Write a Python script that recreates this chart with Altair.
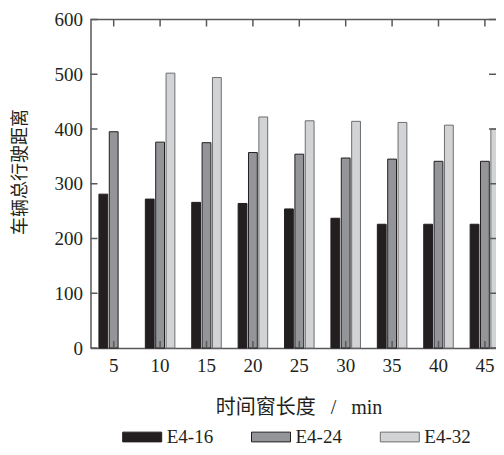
import altair as alt
import pandas as pd

windows = [5, 10, 15, 20, 25, 30, 35, 40, 45]
e4_16 = [281, 272, 266, 264, 254, 237, 226, 226, 226]
e4_24 = [395, 376, 375, 357, 354, 347, 345, 341, 341]
e4_32 = [None, 502, 494, 422, 415, 414, 412, 407, 400]
series = ["E4-16", "E4-24", "E4-32"]
fills = ["#231f20", "#939598", "#d1d3d4"]
strokes = ["#231f20", "#231f20", "#6d6e71"]
y_ticks = [0, 100, 200, 300, 400, 500, 600]

rows = []
for s, vals in zip(series, [e4_16, e4_24, e4_32]):
    for w, v in zip(windows, vals):
        if v is not None:
            rows.append({"window": w, "series": s, "value": v})
df = pd.DataFrame(rows)

frame_x = pd.DataFrame({"window": windows, "lo": y_ticks[0], "hi": y_ticks[-1]})
frame_y = pd.DataFrame({"v": y_ticks})
frame_top = pd.DataFrame({"v": [y_ticks[-1]]})

FONT = "'Liberation Serif', 'Noto Sans CJK SC'"
TXT = "#231f20"
AX = "#58595b"
W = 405.5
H = 328.5
X_SPAN = 417.6

xscale = alt.Scale(range=[0, X_SPAN], paddingInner=0.33, paddingOuter=0.165)
yscale = alt.Scale(domain=[y_ticks[0], y_ticks[-1]])

legend = alt.Legend(
    orient="none", legendX=31.7, legendY=397.5, direction="horizontal",
    title=None, symbolType="M-1,-0.25H1V0.25H-1Z", symbolSize=1521,
    symbolStrokeWidth=1, labelFont=FONT, labelFontSize=19, labelColor=TXT,
    labelOffset=4.5, columnPadding=35.8,
)

x_axis = alt.Axis(
    orient="bottom", title="时间窗长度\u00a0\u00a0 /\u00a0\u00a0 min", labelAngle=0,
    ticks=False, tickSize=0,
    domain=True, domainColor=AX, domainWidth=1.5, labelPadding=8,
    labelFont=FONT, labelFontSize=19, labelColor=TXT,
    titleFont=FONT, titleFontSize=20, titleFontWeight="normal", titleColor=TXT,
    titleX=208, titleY=65, titleBaseline="alphabetic", grid=False)
y_axis = alt.Axis(
    orient="left", values=y_ticks, title="车辆总行驶距离", ticks=False, tickSize=0,
    domain=True, domainColor=AX, domainWidth=1.5, labelPadding=8,
    labelFont=FONT, labelFontSize=19, labelColor=TXT,
    titleFont=FONT, titleFontSize=18, titleFontWeight="normal", titleColor=TXT,
    titleX=-61, titleY=152, grid=False)

bars = alt.Chart(df).mark_bar(strokeWidth=1).encode(
    x=alt.X("window:O", scale=xscale, axis=x_axis),
    y=alt.Y("value:Q", scale=yscale, axis=y_axis),
    xOffset=alt.XOffset("series:N", scale=alt.Scale(domain=series, paddingInner=0.15, paddingOuter=0.075)),
    color=alt.Color("series:N", scale=alt.Scale(domain=series, range=fills), legend=legend),
    stroke=alt.Stroke("series:N", scale=alt.Scale(domain=series, range=strokes), legend=legend),
)

tick_style = dict(size=7, thickness=1.5, color=AX, opacity=1)

bottom_ticks = alt.Chart(frame_x).mark_tick(orient="vertical", yOffset=-3.5, **tick_style).encode(
    x=alt.X("window:O", scale=xscale, axis=x_axis),
    y=alt.Y("lo:Q", scale=yscale, axis=y_axis),
)
top_ticks = alt.Chart(frame_x).mark_tick(orient="vertical", yOffset=3.5, **tick_style).encode(
    x=alt.X("window:O", scale=xscale, axis=x_axis),
    y=alt.Y("hi:Q", scale=yscale, axis=y_axis),
)
left_ticks = alt.Chart(frame_y).mark_tick(orient="horizontal", xOffset=3.5, **tick_style).encode(
    y=alt.Y("v:Q", scale=yscale, axis=y_axis),
    x=alt.value(0),
)
right_ticks = alt.Chart(frame_y).mark_tick(orient="horizontal", xOffset=-3.5, **tick_style).encode(
    y=alt.Y("v:Q", scale=yscale, axis=y_axis),
    x=alt.value("width"),
)
top_line = alt.Chart(frame_top).mark_rule(color=AX, strokeWidth=1.5, opacity=1).encode(
    y=alt.Y("v:Q", scale=yscale, axis=y_axis),
)

chart = alt.layer(bars, bottom_ticks, top_ticks, left_ticks, right_ticks, top_line).properties(
    width=W, height=H,
    autosize=alt.AutoSizeParams(type="none"),
    padding={"left": 82.5, "top": 11.5, "right": 0, "bottom": 99},
    background="white",
).configure_view(strokeWidth=0)

chart.save("out.html", embed_options={"renderer": "svg", "actions": False})
